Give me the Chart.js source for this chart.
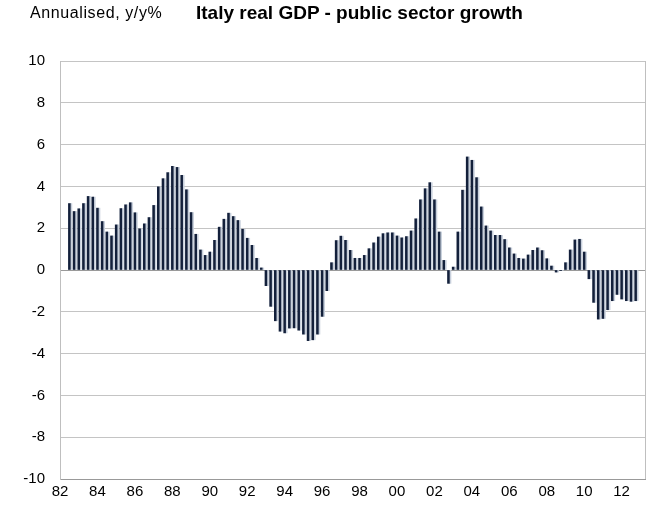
<!DOCTYPE html>
<html>
<head>
<meta charset="utf-8">
<script src="https://cdn.jsdelivr.net/npm/chart.js@4.4.1/dist/chart.umd.min.js"></script>
<style>
  body { margin: 0; background: #fff; }
  #wrap { position: relative; width: 652px; height: 510px; }
  .hdr { position: absolute; font-family: "Liberation Sans", Arial, sans-serif; color: #000; white-space: nowrap; }
  #units { left: 30px; top: 4px; font-size: 16px; letter-spacing: 0.6px; }
  #title { left: 196px; top: 2px; font-size: 19px; font-weight: bold; }
  canvas { position: absolute; left: 0; top: 0; }
</style>
</head>
<body>
<div id="wrap">
  <canvas id="gdp" width="652" height="510"></canvas>
  <div class="hdr" id="units">Annualised, y/y%</div>
  <div class="hdr" id="title">Italy real GDP - public sector growth</div>
</div>
<script>
// quarterly series, 1982Q3 .. 2012Q4
const firstQuarter = [1982, 3];
const growth = [
  3.18, 2.80, 2.93, 3.18, 3.52, 3.49, 2.96, 2.32, 1.82, 1.63,
  2.16, 2.94, 3.12, 3.22, 2.74, 1.97, 2.21, 2.51, 3.09, 3.98,
  4.37, 4.66, 4.96, 4.91, 4.53, 3.84, 2.75, 1.71, 0.96, 0.70,
  0.86, 1.42, 2.05, 2.43, 2.72, 2.56, 2.37, 1.95, 1.52, 1.18,
  0.56, 0.10, -0.75, -1.74, -2.43, -2.93, -3.01, -2.78, -2.77, -2.88,
  -3.07, -3.38, -3.34, -3.07, -2.22, -0.99, 0.35, 1.41, 1.62, 1.42,
  0.94, 0.56, 0.56, 0.70, 1.02, 1.30, 1.58, 1.74, 1.78, 1.78,
  1.63, 1.54, 1.60, 1.87, 2.45, 3.36, 3.89, 4.18, 3.36, 1.82,
  0.46, -0.64, 0.14, 1.82, 3.82, 5.41, 5.25, 4.42, 3.02, 2.11,
  1.87, 1.66, 1.66, 1.46, 1.06, 0.77, 0.56, 0.53, 0.72, 0.94,
  1.06, 0.93, 0.54, 0.19, -0.10, -0.03, 0.35, 0.96, 1.44, 1.47,
  0.86, -0.42, -1.55, -2.35, -2.32, -1.90, -1.47, -1.17, -1.39, -1.47,
  -1.50, -1.47
];
const yearTicks = [1982, 1984, 1986, 1988, 1990, 1992, 1994, 1996, 1998,
                   2000, 2002, 2004, 2006, 2008, 2010, 2012];
const valueTicks = [-10, -8, -6, -4, -2, 0, 2, 4, 6, 8, 10];

const quarters = growth.map((_, i) => {
  const q = firstQuarter[1] - 1 + i;
  return (firstQuarter[0] + Math.floor(q / 4)) + 'Q' + (q % 4 + 1);
});
// quarter label -> fractional year (Q1 sits on the year mark)
const toYear = s => +s.slice(0, 4) + (+s.slice(5) - 1) / 4;

const font = { family: '"Liberation Sans", Arial, sans-serif', size: 15 };

// light shadow on the right side of each bar, plus the plot frame
const barShadow = {
  id: 'barShadow',
  beforeDatasetsDraw(chart) {
    const c = chart.ctx;
    c.save();
    c.shadowColor = '#c8d0dc';
    c.shadowOffsetX = 1.6;
    c.shadowOffsetY = 0;
    c.shadowBlur = 0;
  },
  afterDatasetsDraw(chart) {
    chart.ctx.restore();
  },
  afterDraw(chart) {
    const a = chart.chartArea, c = chart.ctx;
    c.save();
    c.strokeStyle = '#bfbfbf';
    c.lineWidth = 1;
    c.beginPath();
    c.moveTo(a.right + 0.5, a.top);
    c.lineTo(a.right + 0.5, a.bottom);
    c.stroke();
    c.restore();
  }
};

new Chart(document.getElementById('gdp'), {
  type: 'bar',
  data: {
    datasets: [{
      data: quarters.map((q, i) => ({ x: toYear(q), y: growth[i] })),
      backgroundColor: '#13203b',
      barThickness: 1.9,
      borderWidth: 0
    }]
  },
  plugins: [barShadow],
  options: {
    responsive: false,
    animation: false,
    layout: { padding: { top: 61, right: 7, left: 0, bottom: 0 } },
    plugins: {
      legend: { display: false },
      tooltip: { enabled: false }
    },
    scales: {
      x: {
        type: 'linear',
        offset: false,
        min: 1982,
        max: 2013.25,
        afterBuildTicks: s => { s.ticks = yearTicks.map(v => ({ value: v })); },
        afterFit: s => { s.height = 31; },
        grid: { display: false, drawTicks: false },
        border: { color: '#999999' },
        ticks: {
          color: '#000',
          font: font,
          padding: 4,
          maxRotation: 0,
          autoSkip: false,
          callback: v => String(v).slice(2)
        }
      },
      y: {
        min: -10,
        max: 10,
        afterBuildTicks: s => { s.ticks = valueTicks.map(v => ({ value: v })); },
        afterFit: s => { s.width = 60; },
        grid: {
          drawTicks: false,
          color: ctx => ctx.tick && ctx.tick.value === 0 ? '#9a9a9a' : '#c4c4c4'
        },
        border: { color: '#bfbfbf' },
        ticks: {
          color: '#000',
          font: font,
          padding: 15
        }
      }
    }
  }
});
</script>
</body>
</html>
